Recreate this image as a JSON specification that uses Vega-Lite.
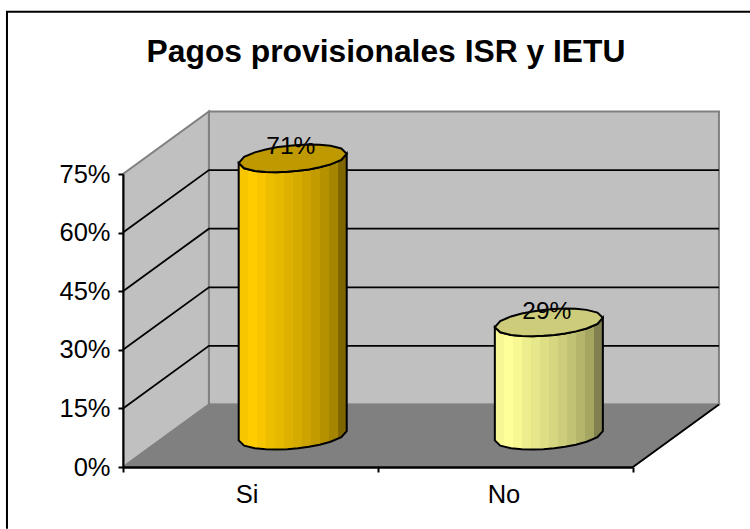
{"$schema":"https://vega.github.io/schema/vega-lite/v6.json","width":510,"height":293,"autosize":{"type":"none"},"padding":{"left":123,"top":174,"right":117,"bottom":62},"background":"white","view":{"stroke":null},"title":{"text":"Pagos provisionales ISR y IETU","font":"Liberation Sans","fontWeight":"bold","fontSize":31.8,"color":"black","anchor":"middle","dx":8,"offset":-61},"datasets":{"frame":[{"o":1,"x":-0.455,"y":-15.8},{"o":2,"x":-0.455,"y":116.5},{"o":3,"x":2.459,"y":116.5}],"leftwall":[{"o":1,"x":0,"y":0},{"o":2,"x":0,"y":75},{"o":3,"x":0.337,"y":91},{"o":4,"x":0.337,"y":16},{"o":5,"x":0,"y":0}],"backwall":[{"o":1,"x":0.337,"y":16},{"o":2,"x":0.337,"y":91},{"o":3,"x":2.337,"y":91},{"o":4,"x":2.337,"y":16},{"o":5,"x":0.337,"y":16}],"floor":[{"o":1,"x":0,"y":0},{"o":2,"x":0.337,"y":16},{"o":3,"x":2.337,"y":16},{"o":4,"x":2,"y":0},{"o":5,"x":0,"y":0}],"edge":[{"x":2,"y":0},{"x":2.337,"y":16}],"grid":[{"g":15,"x":0,"y":15},{"g":15,"x":0.337,"y":31},{"g":15,"x":2.337,"y":31},{"g":30,"x":0,"y":30},{"g":30,"x":0.337,"y":46},{"g":30,"x":2.337,"y":46},{"g":45,"x":0,"y":45},{"g":45,"x":0.337,"y":61},{"g":45,"x":2.337,"y":61},{"g":60,"x":0,"y":60},{"g":60,"x":0.337,"y":76},{"g":60,"x":2.337,"y":76}],"siBody":[{"x":0.4537,"y":77.8,"y2":6.8},{"x":0.4749,"y":76.47,"y2":5.47},{"x":0.5172,"y":75.78,"y2":4.78},{"x":0.5596,"y":75.52,"y2":4.52},{"x":0.602,"y":75.46,"y2":4.46},{"x":0.6443,"y":75.57,"y2":4.57},{"x":0.6867,"y":75.81,"y2":4.81},{"x":0.729,"y":76.18,"y2":5.18},{"x":0.7714,"y":76.72,"y2":5.72},{"x":0.8138,"y":77.46,"y2":6.46},{"x":0.8561,"y":78.63,"y2":7.63},{"x":0.8773,"y":80.2,"y2":9.2}],"siLid":[{"x":0.4537,"y":77.8,"y2":77.8},{"x":0.4749,"y":79.37,"y2":76.47},{"x":0.5172,"y":80.54,"y2":75.78},{"x":0.5596,"y":81.28,"y2":75.52},{"x":0.602,"y":81.82,"y2":75.46},{"x":0.6443,"y":82.19,"y2":75.57},{"x":0.6867,"y":82.43,"y2":75.81},{"x":0.729,"y":82.54,"y2":76.18},{"x":0.7714,"y":82.48,"y2":76.72},{"x":0.8138,"y":82.22,"y2":77.46},{"x":0.8561,"y":81.53,"y2":78.63},{"x":0.8773,"y":80.2,"y2":80.2}],"noBody":[{"x":1.4582,"y":35.8,"y2":6.8},{"x":1.4794,"y":34.47,"y2":5.47},{"x":1.5217,"y":33.78,"y2":4.78},{"x":1.5641,"y":33.52,"y2":4.52},{"x":1.6065,"y":33.46,"y2":4.46},{"x":1.6488,"y":33.57,"y2":4.57},{"x":1.6912,"y":33.81,"y2":4.81},{"x":1.7335,"y":34.18,"y2":5.18},{"x":1.7759,"y":34.72,"y2":5.72},{"x":1.8183,"y":35.46,"y2":6.46},{"x":1.8606,"y":36.63,"y2":7.63},{"x":1.8818,"y":38.2,"y2":9.2}],"noLid":[{"x":1.4582,"y":35.8,"y2":35.8},{"x":1.4794,"y":37.37,"y2":34.47},{"x":1.5217,"y":38.54,"y2":33.78},{"x":1.5641,"y":39.28,"y2":33.52},{"x":1.6065,"y":39.82,"y2":33.46},{"x":1.6488,"y":40.19,"y2":33.57},{"x":1.6912,"y":40.43,"y2":33.81},{"x":1.7335,"y":40.54,"y2":34.18},{"x":1.7759,"y":40.48,"y2":34.72},{"x":1.8183,"y":40.22,"y2":35.46},{"x":1.8606,"y":39.53,"y2":36.63},{"x":1.8818,"y":38.2,"y2":38.2}],"labels":[{"x":0.658,"y":80.1,"t":"71%"},{"x":1.662,"y":37.8,"t":"29%"}],"cats":[{"x":0.487,"y":-9.1,"t":"Si"},{"x":1.494,"y":-9.1,"t":"No"}]},"encoding":{"x":{"field":"x","type":"quantitative","scale":{"domain":[0,2],"nice":false,"zero":false},"axis":{"title":null,"values":[0,1,2],"labels":false,"grid":false,"domainColor":"black","domainWidth":2.5,"tickColor":"black","tickWidth":2,"tickSize":5,"zindex":1}},"y":{"field":"y","type":"quantitative","scale":{"domain":[0,75],"nice":false,"zero":false},"axis":{"title":null,"values":[0,15,30,45,60,75],"labelExpr":"datum.value + '%'","labelFont":"Liberation Sans","labelFontSize":25.5,"labelColor":"black","labelPadding":8,"grid":false,"domainColor":"black","domainWidth":2,"tickColor":"black","tickWidth":2,"tickSize":5,"zindex":1}}},"layer":[{"data":{"name":"frame"},"mark":{"type":"line","stroke":"black","strokeWidth":2,"clip":false},"encoding":{"order":{"field":"o"}}},{"data":{"name":"leftwall"},"mark":{"type":"line","fill":"#c0c0c0","stroke":"#808080","strokeWidth":2},"encoding":{"order":{"field":"o"}}},{"data":{"name":"backwall"},"mark":{"type":"line","fill":"#c0c0c0","stroke":"#808080","strokeWidth":2},"encoding":{"order":{"field":"o"}}},{"data":{"name":"floor"},"mark":{"type":"line","fill":"#808080","stroke":"#808080","strokeWidth":1.5},"encoding":{"order":{"field":"o"}}},{"data":{"name":"grid"},"mark":{"type":"line","stroke":"black","strokeWidth":1.8},"encoding":{"detail":{"field":"g"}}},{"data":{"name":"edge"},"mark":{"type":"line","stroke":"black","strokeWidth":1.8}},{"data":{"name":"siBody"},"mark":{"type":"area","stroke":"black","strokeWidth":2,"color":{"gradient":"linear","x1":0,"x2":1,"y1":0,"y2":0,"stops":[{"offset":0,"color":"#F7C600"},{"offset":0.083,"color":"#F7C600"},{"offset":0.083,"color":"#FFCC00"},{"offset":0.167,"color":"#FFCC00"},{"offset":0.167,"color":"#F7C600"},{"offset":0.25,"color":"#F7C600"},{"offset":0.25,"color":"#EDBE00"},{"offset":0.333,"color":"#EDBE00"},{"offset":0.333,"color":"#E6B800"},{"offset":0.417,"color":"#E6B800"},{"offset":0.417,"color":"#DEB100"},{"offset":0.5,"color":"#DEB100"},{"offset":0.5,"color":"#D6AB00"},{"offset":0.583,"color":"#D6AB00"},{"offset":0.583,"color":"#CCA300"},{"offset":0.667,"color":"#CCA300"},{"offset":0.667,"color":"#C29B00"},{"offset":0.75,"color":"#C29B00"},{"offset":0.75,"color":"#B59100"},{"offset":0.833,"color":"#B59100"},{"offset":0.833,"color":"#A68500"},{"offset":0.917,"color":"#A68500"},{"offset":0.917,"color":"#806600"},{"offset":1,"color":"#806600"}]}},"encoding":{"y2":{"field":"y2"}}},{"data":{"name":"siLid"},"mark":{"type":"area","color":"#BF9900","stroke":"black","strokeWidth":2},"encoding":{"y2":{"field":"y2"}}},{"data":{"name":"noBody"},"mark":{"type":"area","stroke":"black","strokeWidth":2,"color":{"gradient":"linear","x1":0,"x2":1,"y1":0,"y2":0,"stops":[{"offset":0,"color":"#F7F794"},{"offset":0.083,"color":"#F7F794"},{"offset":0.083,"color":"#FFFF99"},{"offset":0.167,"color":"#FFFF99"},{"offset":0.167,"color":"#F7F794"},{"offset":0.25,"color":"#F7F794"},{"offset":0.25,"color":"#EDED8E"},{"offset":0.333,"color":"#EDED8E"},{"offset":0.333,"color":"#E6E68A"},{"offset":0.417,"color":"#E6E68A"},{"offset":0.417,"color":"#DEDE85"},{"offset":0.5,"color":"#DEDE85"},{"offset":0.5,"color":"#D6D680"},{"offset":0.583,"color":"#D6D680"},{"offset":0.583,"color":"#CCCC7A"},{"offset":0.667,"color":"#CCCC7A"},{"offset":0.667,"color":"#C2C274"},{"offset":0.75,"color":"#C2C274"},{"offset":0.75,"color":"#B5B56C"},{"offset":0.833,"color":"#B5B56C"},{"offset":0.833,"color":"#A6A663"},{"offset":0.917,"color":"#A6A663"},{"offset":0.917,"color":"#808050"},{"offset":1,"color":"#808050"}]}},"encoding":{"y2":{"field":"y2"}}},{"data":{"name":"noLid"},"mark":{"type":"area","color":"#CCCC7A","stroke":"black","strokeWidth":2},"encoding":{"y2":{"field":"y2"}}},{"data":{"name":"labels"},"mark":{"type":"text","font":"Liberation Sans","fontSize":24.5,"color":"black","align":"center","baseline":"alphabetic"},"encoding":{"text":{"field":"t"}}},{"data":{"name":"cats"},"mark":{"type":"text","font":"Liberation Sans","fontSize":25.5,"color":"black","align":"center","baseline":"alphabetic"},"encoding":{"text":{"field":"t"}}}]}
